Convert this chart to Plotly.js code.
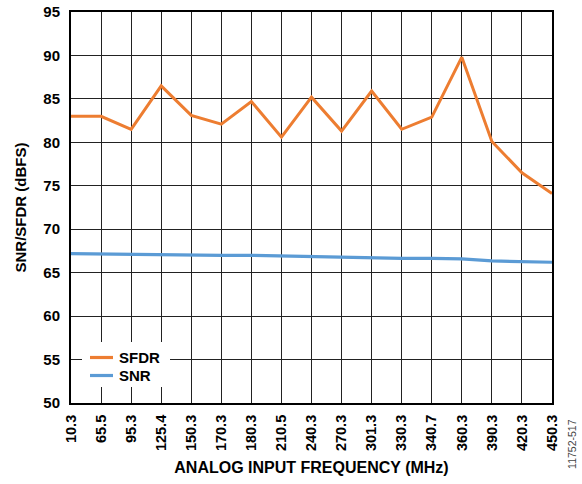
<!DOCTYPE html>
<html>
<head>
<meta charset="utf-8">
<script src="https://cdn.plot.ly/plotly-3.0.1.min.js"></script>
<style>html,body{margin:0;padding:0;background:#fff;}#chart{width:582px;height:484px;}</style>
</head>
<body>
<div id="chart"></div>
<script>
const frequencies = ["10.3","65.5","95.3","125.4","150.3","170.3","180.3","210.5","240.3","270.3","301.3","330.3","340.7","360.3","390.3","420.3","450.3"];
const sfdr = [83.0,83.0,81.5,86.5,83.1,82.1,84.7,80.6,85.2,81.3,85.9,81.5,82.9,89.8,80.1,76.5,74.1];
const snr = [67.2,67.15,67.15,67.07,67.07,67.0,67.0,66.92,66.9,66.8,66.75,66.65,66.65,66.58,66.35,66.3,66.2];
const yTicks = [50,55,60,65,70,75,80,85,90,95];
const seriesNames = ['SFDR', 'SNR'];
const seriesColors = ['#ED7D31', '#5B9BD5'];

const FONT = 'Liberation Sans, Arial, sans-serif';

const traces = [
  {x: frequencies, y: sfdr, name: seriesNames[0], type: 'scatter', mode: 'lines',
   line: {color: seriesColors[0], width: 3}, showlegend: false},
  {x: frequencies, y: snr, name: seriesNames[1], type: 'scatter', mode: 'lines',
   line: {color: seriesColors[1], width: 3.2}, showlegend: false}
];

// custom legend (paper coordinates of plot area: x 71..552, y 12..403 px)
const px = v => (v - 71) / 481;
const py = v => (403 - v) / 391;
const shapes = [
  {type: 'rect', xref: 'paper', yref: 'paper', x0: px(82), x1: px(170), y0: py(387), y1: py(342),
   fillcolor: '#fff', line: {width: 0}, layer: 'above'}
];
const annotations = [];
seriesNames.forEach((n, i) => {
  const yy = 357.5 + i * 18;
  shapes.push({type: 'line', xref: 'paper', yref: 'paper', x0: px(90), x1: px(113), y0: py(yy), y1: py(yy),
    line: {color: seriesColors[i], width: 3.2}, layer: 'above'});
  annotations.push({text: n, xref: 'paper', yref: 'paper', x: px(117), y: py(yy), xanchor: 'left', yanchor: 'middle',
    showarrow: false, font: {family: FONT, size: 15, color: '#000', weight: 'bold'}});
});
annotations.push({
  text: '11752-517', xref: 'paper', yref: 'paper', x: 1.04, y: -0.035,
  xanchor: 'center', yanchor: 'top', textangle: -90, showarrow: false,
  font: {family: FONT, size: 10.5, color: '#444'}
});

const layout = {
  width: 582, height: 484,
  margin: {l: 71, r: 30, t: 12, b: 81},
  paper_bgcolor: '#fff', plot_bgcolor: '#fff',
  font: {family: FONT, size: 14, color: '#000'},
  xaxis: {
    type: 'category', range: [0, frequencies.length - 1],
    showgrid: true, gridcolor: '#222', gridwidth: 1,
    showline: true, linecolor: '#000', linewidth: 2, mirror: true,
    ticks: 'outside', ticklen: 4, tickcolor: 'rgba(0,0,0,0)',
    tickangle: -90, tickfont: {family: FONT, size: 14.5, color: '#000', weight: 'bold'},
    title: {text: 'ANALOG INPUT FREQUENCY (MHz)', font: {family: FONT, size: 16, color: '#000', weight: 'bold'}, standoff: 12},
    zeroline: false, fixedrange: true
  },
  yaxis: {
    range: [50, 95], tickvals: yTicks, ticktext: yTicks.map(String),
    showgrid: true, gridcolor: '#222', gridwidth: 1,
    showline: true, linecolor: '#000', linewidth: 2, mirror: true,
    ticks: 'outside', ticklen: 6, tickcolor: 'rgba(0,0,0,0)',
    tickfont: {family: FONT, size: 15, color: '#000', weight: 'bold'},
    title: {text: 'SNR/SFDR (dBFS)', font: {family: FONT, size: 15, color: '#000', weight: 'bold'}, standoff: 13},
    zeroline: false, fixedrange: true
  },
  showlegend: false,
  shapes: shapes,
  annotations: annotations
};

Plotly.newPlot('chart', traces, layout, {displayModeBar: false, staticPlot: true});
</script>
</body>
</html>
